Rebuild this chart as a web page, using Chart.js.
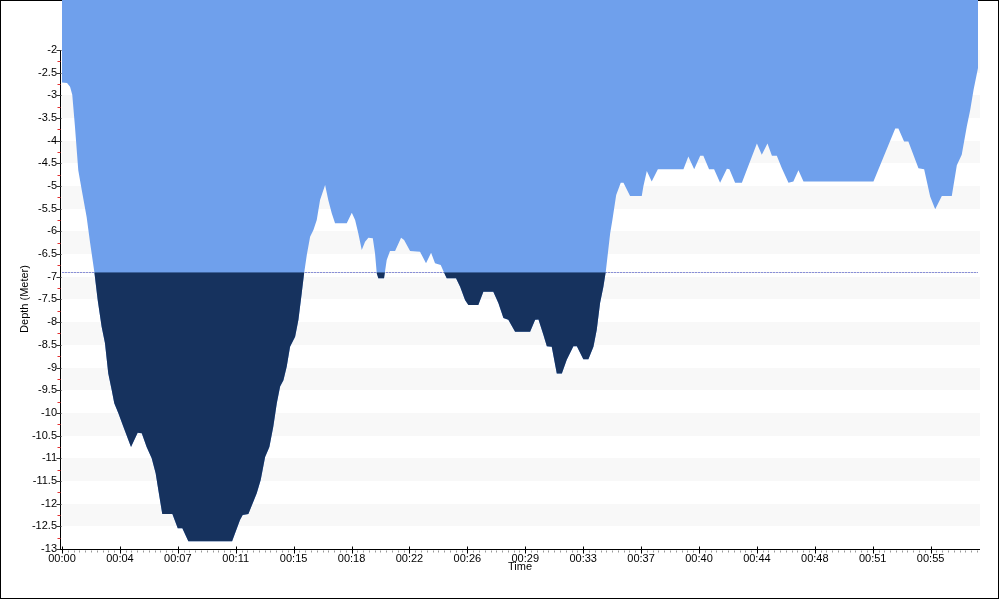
<!DOCTYPE html>
<html lang="en">
<head>
<meta charset="UTF-8">
<title>Dive Profile</title>
<script src="https://cdn.jsdelivr.net/npm/chart.js"></script>
<style>
  body { margin: 0; background: #fff; }
  canvas { display: block; }
</style>
</head>
<body>
<canvas id="diveChart" width="1000" height="600"></canvas>
<script>
const times = [0.00, 0.32, 0.51, 0.65, 0.82, 1.03, 1.25, 1.56, 1.77, 2.05,
  2.26, 2.51, 2.72, 2.93, 3.15, 3.31, 3.57, 3.88, 4.37, 4.79,
  5.05, 5.36, 5.68, 5.93, 6.10, 6.35, 6.99, 7.33, 7.62, 8.00,
  10.77, 11.27, 11.44, 11.80, 12.33, 12.58, 12.86, 13.13, 13.38, 13.60,
  13.81, 14.02, 14.23, 14.44, 14.76, 14.97, 15.18, 15.33, 15.50, 15.71,
  15.92, 16.13, 16.34, 16.66, 16.86, 17.08, 17.29, 18.03, 18.35, 18.56,
  18.76, 18.98, 19.19, 19.40, 19.68, 19.82, 19.93, 20.03, 20.39, 20.56,
  20.77, 21.09, 21.47, 21.66, 22.04, 22.67, 23.05, 23.37, 23.62, 23.98,
  24.26, 24.36, 24.95, 25.21, 25.52, 25.73, 26.36, 26.68, 27.31, 27.63,
  27.95, 28.26, 28.69, 29.64, 29.96, 30.17, 30.48, 30.70, 31.01, 31.33,
  31.65, 31.96, 32.38, 32.60, 33.01, 33.33, 33.65, 33.86, 34.07, 34.28,
  34.43, 34.71, 34.85, 35.09, 35.38, 35.55, 35.97, 36.71, 36.81, 37.03,
  37.34, 37.73, 39.35, 39.66, 40.03, 40.41, 40.61, 40.97, 41.29, 41.67,
  42.10, 42.26, 42.62, 43.05, 44.00, 44.31, 44.67, 44.95, 45.26, 45.58,
  46.00, 46.31, 46.63, 46.95, 51.38, 52.76, 52.96, 53.32, 53.59, 54.23,
  54.59, 54.97, 55.29, 55.71, 56.34, 56.66, 56.97, 57.29, 57.51, 57.72,
  58.00];
const depths = [-2.72, -2.73, -2.81, -2.99, -3.69, -4.65, -5.09, -5.68, -6.23, -6.90,
  -7.51, -8.10, -8.46, -9.13, -9.50, -9.79, -10.01, -10.30, -10.75, -10.44,
  -10.45, -10.75, -11.00, -11.33, -11.70, -12.23, -12.23, -12.54, -12.54, -12.83,
  -12.83, -12.36, -12.25, -12.23, -11.77, -11.48, -10.97, -10.75, -10.30, -9.79,
  -9.42, -9.28, -8.98, -8.54, -8.32, -7.95, -7.36, -6.92, -6.52, -6.12,
  -5.97, -5.75, -5.31, -4.98, -5.31, -5.60, -5.82, -5.82, -5.59, -5.75,
  -6.04, -6.41, -6.23, -6.14, -6.15, -6.48, -6.92, -7.03, -7.03, -6.63,
  -6.43, -6.43, -6.14, -6.19, -6.43, -6.45, -6.70, -6.47, -6.70, -6.74,
  -6.96, -7.03, -7.03, -7.22, -7.51, -7.62, -7.62, -7.33, -7.33, -7.58,
  -7.91, -7.95, -8.21, -8.21, -7.95, -7.94, -8.28, -8.53, -8.54, -9.13,
  -9.13, -8.83, -8.53, -8.53, -8.82, -8.82, -8.54, -8.17, -7.58, -7.22,
  -6.89, -6.04, -5.75, -5.20, -4.93, -4.93, -5.22, -5.22, -5.01, -4.67,
  -4.90, -4.63, -4.63, -4.35, -4.63, -4.33, -4.33, -4.63, -4.63, -4.93,
  -4.62, -4.63, -4.93, -4.93, -4.06, -4.31, -4.06, -4.33, -4.33, -4.61,
  -4.93, -4.90, -4.65, -4.90, -4.90, -3.73, -3.73, -4.02, -4.02, -4.61,
  -4.63, -5.23, -5.51, -5.22, -5.22, -4.54, -4.31, -3.69, -3.32, -2.88,
  -2.40];

const xTickValues = [0, 3.667, 7.333, 11, 14.667, 18.333, 22, 25.667, 29.333, 33,
  36.667, 40.333, 44, 47.667, 51.333, 55];
const xTickLabels = ['00:00', '00:04', '00:07', '00:11', '00:15', '00:18', '00:22', '00:26',
  '00:29', '00:33', '00:37', '00:40', '00:44', '00:48', '00:51', '00:55'];
const yTickValues = [-2, -2.5, -3, -3.5, -4, -4.5, -5, -5.5, -6, -6.5, -7, -7.5, -8,
  -8.5, -9, -9.5, -10, -10.5, -11, -11.5, -12, -12.5, -13];
const limitDepth = -6.9;

const points = times.map((t, i) => ({ x: t, y: depths[i] }));
const FONT = { family: 'Liberation Sans, Arial, sans-serif', size: 11 };

// stripes, reference line, hand drawn axes and titles
const decor = {
  id: 'decor',
  beforeDraw(chart) {
    const c = chart.ctx;
    c.save();
    c.fillStyle = '#fff';
    c.fillRect(0, 0, chart.width, chart.height);
    c.strokeStyle = '#000';
    c.lineWidth = 1;
    c.strokeRect(0.5, 0.5, 998, 598);
    c.restore();
  },
  beforeDatasetsDraw(chart) {
    const { ctx: c, chartArea: a, scales: { y } } = chart;
    c.save();
    c.fillStyle = '#f8f8f8';
    for (let n = 2; n <= 12; n++) {
      const top = y.getPixelForValue(-n);
      const bot = y.getPixelForValue(-n - 0.5);
      c.fillRect(a.left, Math.round(top), a.right - a.left + 2, Math.round(bot) - Math.round(top));
    }
    const ly = Math.round(y.getPixelForValue(limitDepth)) + 0.5;
    c.strokeStyle = '#a4a4f6';
    c.setLineDash([2, 1]);
    c.beginPath();
    c.moveTo(a.left, ly);
    c.lineTo(a.right, ly);
    c.stroke();
    c.restore();
  },
  afterDatasetsDraw(chart) {
    const { ctx: c, chartArea: a, scales: { x, y } } = chart;
    c.save();
    c.lineWidth = 1;
    // y axis
    const ax = a.left - 1.5;
    c.strokeStyle = '#000';
    c.beginPath();
    c.moveTo(ax, Math.round(y.getPixelForValue(-2)));
    c.lineTo(ax, a.bottom + 1);
    c.stroke();
    yTickValues.forEach(v => {
      const py = Math.round(y.getPixelForValue(v)) + 0.5;
      c.strokeStyle = '#333';
      c.beginPath(); c.moveTo(ax - 4, py); c.lineTo(ax + 1, py); c.stroke();
      if (v > -13) {
        const my = Math.round(y.getPixelForValue(v - 0.25)) + 0.5;
        c.strokeStyle = '#e23232';
        c.beginPath(); c.moveTo(ax - 3, my); c.lineTo(ax, my); c.stroke();
      }
    });
    // x axis
    const ay = a.bottom + 0.5;
    c.strokeStyle = '#000';
    c.beginPath(); c.moveTo(a.left - 2, ay); c.lineTo(a.right + 2, ay); c.stroke();
    c.strokeStyle = '#999';
    for (let t = 0; t <= x.max; t += 11 / 30) {
      const px = Math.round(x.getPixelForValue(t)) + 0.5;
      c.beginPath(); c.moveTo(px, ay + 1); c.lineTo(px, ay + 3); c.stroke();
    }
    c.strokeStyle = '#000';
    xTickValues.forEach(v => {
      const px = Math.round(x.getPixelForValue(v)) + 0.5;
      c.beginPath(); c.moveTo(px, ay - 3); c.lineTo(px, ay + 4); c.stroke();
    });
    c.restore();
  },
  afterDraw(chart) {
    const c = chart.ctx;
    const a = chart.chartArea;
    c.save();
    c.fillStyle = '#000';
    c.font = `${FONT.size}px ${FONT.family}`;
    c.textAlign = 'center';
    c.textBaseline = 'middle';
    c.fillText('Time', (a.left + a.right) / 2, 567);
    c.translate(25, 299);
    c.rotate(-Math.PI / 2);
    c.fillText('Depth (Meter)', 0, 0);
    c.restore();
  }
};

const ctx = document.getElementById('diveChart').getContext('2d');
new Chart(ctx, {
  type: 'line',
  data: {
    datasets: [
      {
        // below the limit line
        data: points,
        borderWidth: 0,
        pointRadius: 0,
        fill: { target: { value: limitDepth }, above: 'rgba(0,0,0,0)', below: '#16325e' }
      },
      {
        data: points,
        borderWidth: 0,
        pointRadius: 0,
        backgroundColor: '#6fa0ec',
        fill: 'end'
      }
    ]
  },
  options: {
    responsive: false,
    animation: false,
    layout: { padding: { left: 0, right: 22, top: 0, bottom: 0 } },
    plugins: { legend: { display: false }, tooltip: { enabled: false } },
    scales: {
      x: {
        type: 'linear',
        min: 0,
        max: 58,
        afterBuildTicks: s => { s.ticks = xTickValues.map(v => ({ value: v })); },
        afterFit: s => { s.height = 51; s.paddingLeft = 0; s.paddingRight = 0; },
        grid: { display: false, drawTicks: false },
        border: { display: false },
        ticks: {
          autoSkip: false, maxRotation: 0, padding: 3, color: '#000', font: FONT,
          callback: (v, i) => xTickLabels[i]
        }
      },
      y: {
        type: 'linear',
        min: -13,
        max: -0.9,
        afterBuildTicks: s => { s.ticks = yTickValues.map(v => ({ value: v })); },
        afterFit: s => { s.width = 62; s.paddingTop = 0; s.paddingBottom = 0; },
        grid: { display: false, drawTicks: false },
        border: { display: false },
        ticks: { autoSkip: false, padding: 5, color: '#000', font: FONT, callback: v => String(v) }
      }
    }
  },
  plugins: [decor]
});
</script>
</body>
</html>
